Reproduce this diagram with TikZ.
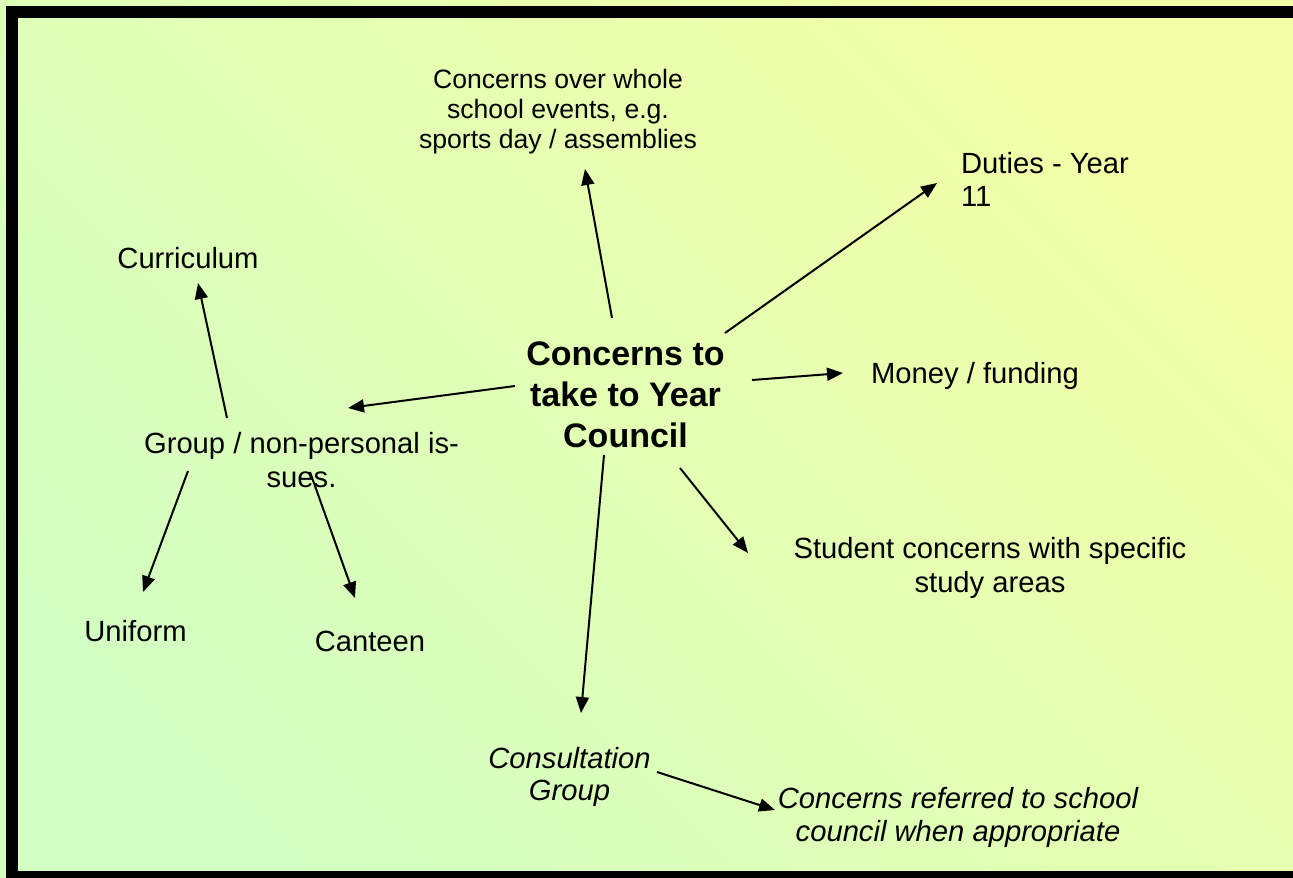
\documentclass[tikz,border=0pt]{standalone}
\usepackage{fontspec}
\setmainfont{Liberation Sans}
\usetikzlibrary{arrows.meta}

\definecolor{bgtop}{RGB}{243,255,166}
\definecolor{bgmid}{RGB}{228,255,180}
\definecolor{bgbot}{RGB}{210,255,194}

\begin{document}
\begin{tikzpicture}[x=0.5pt, y=-0.5pt,
    txt/.style={font=\fontsize{14.6}{16.8}\selectfont, align=center, inner sep=0pt},
    arr/.style={line width=1pt, -{Triangle[length=8pt, width=6.5pt]}}]
      \useasboundingbox (0,0) rectangle (1293,877);
      \shade[bottom color=bgbot, middle color=bgmid, top color=bgtop, shading angle=-45] (-10,-10) rectangle (1320,900);
      \draw[line width=6pt] (11.5,12) -- (1320,12);
      \draw[line width=6pt] (11.5,6) -- (11.5,900);
      \draw[line width=6pt] (11.5,877) -- (1320,877);
      \node[txt, font=\fontsize{13.3}{15}\selectfont] (whole) at (558,112) {Concerns over whole\\school events, e.g.\\sports day / assemblies};
      \node[txt, align=left] (duties) at (1045,179.5) {Duties - Year\\11};
      \node[txt] (curric) at (188,258) {Curriculum};
      \node[txt, font=\fontsize{17}{20.5}\selectfont\bfseries] (hub) at (625.5,395) {Concerns to\\take to Year\\Council};
      \node[txt] (money) at (975,375.5) {Money / funding};
      \node[txt] (group) at (301.5,460) {Group / non-personal is-\\sues.};
      \node[txt] (student) at (990,568) {Student concerns with specific\\study areas};
      \node[txt] (uniform) at (135.5,631.5) {Uniform};
      \node[txt] (canteen) at (370,641.5) {Canteen};
      \node[txt, font=\fontsize{14.6}{16}\selectfont\itshape] (consult) at (569.5,776.5) {Consultation\\Group};
      \node[txt, font=\fontsize{14.6}{16.5}\selectfont\itshape] (referred) at (958,817) {Concerns referred to school\\council when appropriate};
      \draw[arr] ([shift={(-13.5,-77)}]hub.center) -- ([shift={(27,57)}]whole.center);
      \draw[arr] ([shift={(99.5,-62)}]hub.center) -- ([shift={(-108,3.5)}]duties.center);
      \draw[arr] ([shift={(126.5,-15)}]hub.center) -- ([shift={(-132,-2.5)}]money.center);
      \draw[arr] ([shift={(-110.5,-9)}]hub.center) -- ([shift={(46.5,-52)}]group.center);
      \draw[arr] ([shift={(54.5,73)}]hub.center) -- ([shift={(-242,-15)}]student.center);
      \draw[arr] ([shift={(-21.5,60)}]hub.center) -- ([shift={(11.5,-63.5)}]consult.center);
      \draw[arr] ([shift={(-74.5,-42)}]group.center) -- ([shift={(10,25)}]curric.center);
      \draw[arr] ([shift={(-113.5,11)}]group.center) -- ([shift={(7.5,-39.5)}]uniform.center);
      \draw[arr] ([shift={(8.5,12)}]group.center) -- ([shift={(-15,-43.5)}]canteen.center);
      \draw[arr] ([shift={(87.5,-4.5)}]consult.center) -- ([shift={(-183,-7)}]referred.center);
    \end{tikzpicture}
\end{document}
